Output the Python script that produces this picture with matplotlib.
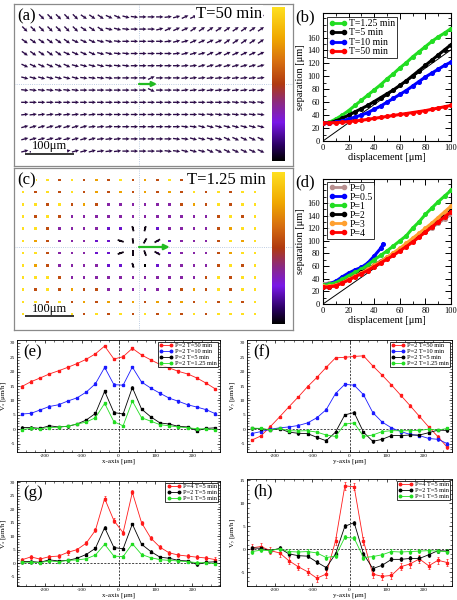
import numpy as np
import matplotlib
matplotlib.use('Agg')
import matplotlib.pyplot as plt
from matplotlib.colors import LinearSegmentedColormap
from matplotlib.lines import Line2D
from matplotlib.ticker import MultipleLocator

# ======================= DATA =======================
# (a) field at T=50 min: orientation code per arrow, rows top -> bottom
angle_code = {'A': -45, 'B': -35, 'C': -25, 'D': -15, 'E': -7, 'F': 0,
              'G': 7, 'H': 15, 'I': 25, 'J': 35, 'K': 45}
a_rows = [
    "AAAAAAABBBCCDEFFFGHIIJJJJJJJJ",
    "AAAAAAABBBDDEFFFHIIIJJJJJJJJJ",
    "BBBBBBCCCDDEFFFFFGHHIIIIJJJJJ",
    "BBBBBCCCCDDEEFFFFFGHHHIIIIIII",
    "CCCCCCDDDDEEEFFFFFFGGHHHHHHHH",
    "DDDDDDDEEEEFFFFIFFFGGGGGGGGGG",
    "EEEEEEEFFFFFFFFCFFFGGGGGGGGGG",
    "FFFFFFFFFFFFFFFFFFFFFFFFFEEEE",
    "GGGGGGGGGFFFFFFFFFFFFEEEEEEEE",
    "HHHHHHHHGGGFFFFFFFFEEDDDDDDDD",
    "HHHHHHHHHGGGFFFFFFEEDDDDCCCCC",
    "HHHHHHHHHGGGFFFFFEEDDDCCCCCCC",
]
a_title = "T=50 min"
a_arrow_len = 15.0          # um
a_particle_step = 37.0      # um (green arrow)

# (c) field at T=1.25 min: colour level (0-9) per grid point, rows top -> bottom
c_rows = [
    "99959575957595979999",
    "95959575757575959599",
    "99595753333335759599",
    "95953333333333335959",
    "99533332200233335799",
    "97533322000223335979",
    "99533322000223335799",
    "97533332200233335959",
    "99953333333333359599",
    "95957553333335759599",
    "99595757575757595959",
    "99959595959595959999",
]
c_title = "T=1.25 min"
c_seg_col = [8, 9, 9, 10, 10, 11, 8, 9, 10, 11, 9]
c_seg_row = [5, 4, 5, 4, 5, 5, 6, 6, 6, 6, 7]
c_seg_ang = [-18, 105, 95, 75, 60, 30, 20, 90, -70, -30, -72]
c_seg_len = [13, 11, 11, 11, 12, 13, 13, 12, 12, 13, 10]
c_particle_step = 63.0
scale_bar_um = 100

# (b) separation vs displacement
b_x = [0, 5, 10, 15, 20, 25, 30, 35, 40, 45, 50, 55, 60, 65, 70, 75, 80, 85, 90, 95, 100]
b_labels = ["T=1.25 min", "T=5 min", "T=10 min", "T=50 min"]
b_T125 = [28, 29, 34, 40, 47, 55, 63, 71, 79, 87, 96, 104, 113, 121, 130, 138, 146, 154, 161, 167, 174]
b_T5 = [28, 28, 31, 35, 40, 45, 50, 55, 61, 67, 73, 79, 86, 93, 101, 109, 117, 125, 133, 141, 149]
b_T10 = [28, 28, 29, 31, 34, 37, 40, 44, 49, 54, 60, 66, 72, 78, 85, 92, 99, 105, 111, 117, 122]
b_T50 = [28, 28, 28.5, 29, 30, 31, 32, 33.5, 35, 36.5, 38, 39.5, 41, 42.5, 44, 45.5, 47, 49, 51, 53, 55]
ref_slope = 1.41

# (d) separation vs displacement for several P
d_labels = ["P=0", "P=0.5", "P=1", "P=2", "P=3", "P=4"]
d_x_short = [0, 5, 10, 15, 20, 25, 30, 35, 40, 45, 47]
d_P0 = [32, 33, 35, 38, 42, 47, 52, 57, 62, 68, 74, 80, 86, 93, 100, 107, 114, 121, 128, 135, 142]
d_P05 = [30, 32, 36, 43, 49, 54, 58, 65, 76, 88, 95]
d_P1 = [30, 31, 34, 39, 45, 50, 55, 62, 70, 77, 84, 92, 100, 108, 120, 130, 142, 152, 162, 171, 180]
d_P2 = [27, 27, 30, 34, 39, 44, 50, 55, 61, 67, 73, 79, 86, 93, 101, 108, 116, 124, 132, 140, 148]
d_P3 = [28, 28, 30, 34, 39, 44, 49, 55, 61, 67, 74, 81, 88, 96, 104, 112, 120, 128, 137, 146, 155]
d_P4 = [27, 27, 29, 33, 38, 43, 48, 53, 59, 65, 71, 77, 84, 91, 98, 106, 114, 122, 130, 138, 146]

# (e)-(h) velocity profiles
pos = [-262.5, -237.5, -212.5, -187.5, -162.5, -137.5, -112.5, -87.5, -62.5, -37.5, -12.5,
       12.5, 37.5, 62.5, 87.5, 112.5, 137.5, 162.5, 187.5, 212.5, 237.5, 262.5]
# x-profiles (Vx) , P=2
vx_T50 = [14.8, 16.5, 17.8, 19.2, 20.3, 21.5, 22.8, 24.3, 26.2, 28.9, 24.4,
          25.2, 28.1, 25.8, 24.1, 22.5, 21.3, 20.1, 19.2, 17.8, 16.0, 14.0]
vx_T10 = [5.3, 5.5, 6.7, 7.9, 8.5, 9.8, 10.9, 12.9, 15.8, 21.5, 15.5,
          15.3, 21.6, 16.4, 14.3, 12.5, 10.8, 9.7, 8.5, 7.7, 6.8, 5.4]
vx_T5 = [0.6, 0.6, 0.3, 1.2, 0.8, 1.0, 1.8, 3.2, 5.5, 13.2, 5.8,
         5.3, 14.5, 7.0, 4.3, 2.2, 1.8, 1.0, 0.8, -0.5, 0.3, 0.5]
vx_T125 = [-0.1, 0.3, 0.2, 0.6, 0.7, 1.1, 1.8, 2.5, 4.0, 9.0, 2.6,
           1.2, 9.8, 4.0, 2.8, 1.6, 1.2, 0.8, 0.5, 0.2, 0.1, -0.2]
# y-profiles (Vy), P=2
vy_T50 = [-3.8, -2.3, 0.9, 4.3, 7.8, 11.2, 14.8, 18.0, 21.5, 24.8, 25.0,
          25.3, 25.5, 22.0, 18.8, 15.4, 11.8, 8.2, 4.5, 0.8, -2.6, -6.3]
vy_T10 = [-1.5, -0.8, 0.0, 0.5, 0.8, 1.3, 2.2, 4.0, 6.8, 12.4, 15.6,
          15.3, 12.0, 5.8, 2.5, 0.5, -0.8, -1.8, -2.2, -3.2, -3.5, -5.0]
vy_T5 = [0.3, 0.2, -0.3, 0.2, -1.0, -1.4, -1.5, -2.8, -4.0, -1.0, 5.0,
         5.8, -1.0, -4.2, -3.5, -2.2, -2.2, -2.0, -2.0, -1.2, -0.3, -0.4]
vy_T125 = [0.4, 0.3, -0.2, 0.3, -0.5, -0.6, -0.5, -1.0, -2.0, -2.5, 1.8,
           2.2, -2.5, -2.0, -0.8, -0.5, -0.5, -0.5, -0.4, 0.0, -0.3, 0.3]
# P comparison at T=5 min
vx_P4 = [1.2, 2.3, 1.5, 2.4, 2.6, 4.0, 5.0, 7.4, 12.2, 24.0, 15.8,
         11.3, 26.3, 15.0, 9.3, 5.9, 3.8, 3.0, 2.6, 2.2, 1.9, 1.3]
vx_P1 = [0.3, 0.3, 0.2, 0.8, 0.5, 1.0, 1.2, 1.6, 3.0, 7.0, 2.6,
         2.4, 7.2, 3.2, 2.0, 1.3, 1.0, 0.8, 0.5, 0.2, 0.1, -0.2]
vy_P4 = [0.3, 0.6, -0.3, -0.8, -2.5, -3.8, -4.9, -6.3, -5.4, 1.8, 13.8,
         13.6, 1.8, -5.4, -5.9, -5.7, -3.8, -3.2, -2.1, -3.6, -2.4, -2.9]
vy_P1 = [-0.5, -0.2, -0.3, 0.1, -0.5, -0.6, -0.5, -0.8, -1.8, -1.5, 2.6,
         2.4, -1.8, -1.6, -1.2, -0.5, -0.6, -0.5, -0.4, -0.3, -0.4, -0.5]
err_small = 0.45
err_big = 0.8
ef_labels = ["P=2 T=50 min", "P=2 T=10 min", "P=2 T=5 min", "P=2 T=1.25 min"]
gh_labels = ["P=4 T=5 min", "P=2 T=5 min", "P=1 T=5 min"]

# ======================= STYLE / LAYOUT =======================
plt.rcParams['font.family'] = ['Liberation Serif', 'DejaVu Serif']
plt.rcParams['mathtext.fontset'] = 'stix'
plt.rcParams['axes.unicode_minus'] = False

W, H = 457, 600
fig = plt.figure(figsize=(W / 100, H / 100), dpi=100)


def rect(l, t, r, b):
    return [l / W, 1 - b / H, (r - l) / W, (b - t) / H]


cmap = LinearSegmentedColormap.from_list('fld', [
    (0.0, '#000000'), (0.1, '#2a0060'), (0.25, '#7a18e8'), (0.38, '#8c2a80'),
    (0.5, '#b03a10'), (0.65, '#d87010'), (0.8, '#f0a800'), (1.0, '#ffe020')])

PXUM = 0.488   # px per um in field panels
GREEN = '#22dd22'


def field_frame(top, bottom, cx, cy):
    ax = fig.add_axes(rect(14, top, 293, bottom))
    ax.set_xlim((14 - cx) / PXUM, (293 - cx) / PXUM)
    ax.set_ylim((cy - bottom) / PXUM, (cy - top) / PXUM)
    ax.set_xticks([]); ax.set_yticks([])
    for s in ax.spines.values():
        s.set_color('#8a8a8a'); s.set_linewidth(0.9)
    ax.axhline(0, color='#a8bcd8', lw=0.6, ls=':', zorder=0)
    ax.axvline(0, color='#a8bcd8', lw=0.6, ls=':', zorder=0)
    return ax


def colorbar_strip(top, bottom):
    cax = fig.add_axes(rect(272, top, 285, bottom))
    cax.imshow(np.linspace(0, 1, 256)[:, None], cmap=cmap, aspect='auto', origin='lower')
    cax.set_axis_off()


def scale_bar(ax, y_line, y_text):
    x0 = (25 - 139) / PXUM
    ax.plot([x0, x0 + scale_bar_um], [y_line, y_line], color='k', lw=1.1, zorder=6, solid_capstyle='butt')
    ax.text(x0 + scale_bar_um / 2, y_text, "100\u03bcm", ha='center', va='center',
            fontsize=9, zorder=7, bbox=dict(facecolor='white', edgecolor='none', pad=0.3))


# ---------- (a) ----------
axa = field_frame(4, 166, 139, 84)
ax_x = np.linspace(-234, 250, 29)
ax_y = [137.5 - 25 * j for j in range(len(a_rows))]
X, Y, U, V = [], [], [], []
for j, row in enumerate(a_rows):
    row = row[:29].ljust(29, 'F')
    for i, ch in enumerate(row):
        ang = np.deg2rad(angle_code[ch])
        X.append(ax_x[i]); Y.append(ax_y[j])
        U.append(a_arrow_len * np.cos(ang)); V.append(a_arrow_len * np.sin(ang))
axa.quiver(X, Y, U, V, angles='xy', scale_units='xy', scale=1, pivot='middle',
           color='#2c0c48', width=0.0048, headwidth=2.8, headlength=2.8, headaxislength=2.4, zorder=3)
axa.annotate('', xy=(a_particle_step, 0), xytext=(0, 0),
             arrowprops=dict(arrowstyle='-|>', color='#22bb22', lw=1.6, mutation_scale=7,
                             shrinkA=0, shrinkB=0), zorder=5)
scale_bar(axa, (84 - 154) / PXUM, (84 - 146.5) / PXUM)
colorbar_strip(7, 161)
fig.text(17 / W, 1 - 16 / H, "(a)", fontsize=12, va='center', ha='left',
         bbox=dict(facecolor='white', edgecolor='none', pad=0.5))
fig.text(196 / W, 1 - 14 / H, a_title, fontsize=12, va='center', ha='left',
         bbox=dict(facecolor='white', edgecolor='none', pad=0.5))

# ---------- (c) ----------
axc = field_frame(168, 330, 139, 247)
cx_pts = [-237.5 + 25 * k for k in range(20)]
cy_pts = [137.5 - 25 * j for j in range(12)]
PX, PY, PC = [], [], []
for j, row in enumerate(c_rows):
    for i, ch in enumerate(row[:20]):
        PX.append(cx_pts[i]); PY.append(cy_pts[j]); PC.append(int(ch) / 9)
axc.scatter(PX, PY, c=PC, cmap=cmap, vmin=0, vmax=1, s=3.5, marker='s', linewidths=0, zorder=3)
SX = [cx_pts[c] for c in c_seg_col]
SY = [cy_pts[r] for r in c_seg_row]
SU = [l * np.cos(np.deg2rad(a)) for l, a in zip(c_seg_len, c_seg_ang)]
SV = [l * np.sin(np.deg2rad(a)) for l, a in zip(c_seg_len, c_seg_ang)]
axc.quiver(SX, SY, SU, SV, angles='xy', scale_units='xy', scale=1, pivot='middle', color='#140818',
           width=0.0065, headwidth=1, headlength=0, headaxislength=0, zorder=4)
axc.annotate('', xy=(c_particle_step, 0), xytext=(0, 0),
             arrowprops=dict(arrowstyle='-|>', color='#22bb22', lw=1.6, mutation_scale=8,
                             shrinkA=0, shrinkB=0), zorder=5)
scale_bar(axc, (247 - 316) / PXUM, (247 - 309) / PXUM)
colorbar_strip(172, 324)
fig.text(17 / W, 1 - 180 / H, "(c)", fontsize=12, va='center', ha='left',
         bbox=dict(facecolor='white', edgecolor='none', pad=0.5))
fig.text(187 / W, 1 - 180 / H, c_title, fontsize=12, va='center', ha='left',
         bbox=dict(facecolor='white', edgecolor='none', pad=0.5))


# ---------- (b), (d) ----------
def sep_axes(top, bottom, letter, letter_y):
    ax = fig.add_axes(rect(323, top, 451, bottom))
    ax.set_xlim(0, 100)
    ax.set_ylim(0, 198)
    ax.set_xticks([0, 20, 40, 60, 80, 100])
    ax.set_yticks([0, 20, 40, 60, 80, 100, 120, 140, 160])
    ax.xaxis.set_minor_locator(MultipleLocator(10))
    ax.yaxis.set_minor_locator(MultipleLocator(10))
    ax.tick_params(which='both', direction='in', top=True, right=True, labelsize=6, pad=2)
    ax.tick_params(which='major', length=4, width=0.7)
    ax.tick_params(which='minor', length=2, width=0.6)
    for s in ax.spines.values():
        s.set_linewidth(0.8)
    ax.set_xlabel("displacement [\u03bcm]", fontsize=7.5, labelpad=1)
    ax.set_ylabel("separation [\u03bcm]", fontsize=7.5, labelpad=2)
    ax.plot([0, 100], [0, ref_slope * 100], color='k', lw=0.7, zorder=2)
    fig.text(295 / W, 1 - letter_y / H, letter, fontsize=12, va='center', ha='left')
    return ax


def leg(ax, handles, labels, fs, **kw):
    lg = ax.legend(handles, labels, fontsize=fs, frameon=True, fancybox=False, numpoints=2, **kw)
    lg.get_frame().set_edgecolor('k')
    lg.get_frame().set_linewidth(0.7)
    return lg


axb = sep_axes(13, 141, "(b)", 17)
b_cols = [GREEN, 'k', '#0000ff', '#ff0000']
b_series = [b_T125, b_T5, b_T10, b_T50]
hb = []
for ys, col in zip(b_series, b_cols):
    axb.plot(b_x, ys, '-o', color=col, lw=2.2, ms=2.6, zorder=3)
    hb.append(Line2D([], [], color=col, lw=2, marker='o', ms=3))
leg(axb, hb, b_labels, 7, loc='upper left', bbox_to_anchor=(0.035, 0.965), borderaxespad=0,
    handlelength=1.9, handletextpad=0.2, labelspacing=0.05, borderpad=0.15)

axd = sep_axes(179, 304, "(d)", 182)
d_cols = ['#b89090', '#0000ff', GREEN, 'k', '#ffa030', '#ff0000']
hd = []
axd.plot(b_x, d_P0, '-o', color=d_cols[0], lw=2.2, ms=2.6, zorder=3)
axd.plot(d_x_short, d_P05, '-o', color=d_cols[1], lw=2.2, ms=2.6, zorder=3)
for ys, col in zip([d_P1, d_P2, d_P3, d_P4], d_cols[2:]):
    axd.plot(b_x, ys, '-o', color=col, lw=2.2, ms=2.6, zorder=3)
for col in d_cols:
    hd.append(Line2D([], [], color=col, lw=2, marker='o', ms=3))
leg(axd, hd, d_labels, 7, loc='upper left', bbox_to_anchor=(0.035, 0.975), borderaxespad=0,
    handlelength=1.9, handletextpad=0.2, labelspacing=0.0, borderpad=0.15)


# ---------- (e)-(h) ----------
def prof_axes(l, t, r, b, ylim, yticks, xlabel, ylabel, letter, series, labels):
    ax = fig.add_axes(rect(l, t, r, b))
    ax.set_xlim(-275, 275)
    ax.set_ylim(*ylim)
    ax.set_xticks([-200, -100, 0, 100, 200])
    ax.set_yticks(yticks)
    ax.xaxis.set_minor_locator(MultipleLocator(25))
    ax.yaxis.set_minor_locator(MultipleLocator(1))
    ax.tick_params(which='both', direction='in', top=True, right=True, labelsize=3.8, pad=1.5)
    ax.tick_params(which='major', length=2.5, width=0.5)
    ax.tick_params(which='minor', length=1.2, width=0.4)
    for s in ax.spines.values():
        s.set_linewidth(0.6)
    ax.axhline(0, color='k', lw=0.5, ls=(0, (3, 2)), zorder=1)
    ax.axvline(0, color='k', lw=0.5, ls=(0, (3, 2)), zorder=1)
    hs = []
    for ys, err, col in series:
        ax.errorbar(pos, ys, yerr=err, fmt='-s', color=col, ms=1.7, lw=0.6, elinewidth=0.5,
                    capsize=1.0, capthick=0.5, zorder=3)
        hs.append(Line2D([], [], color=col, lw=0.6, marker='o', ms=1.8))
    ax.set_xlabel(xlabel, fontsize=5, labelpad=0.5)
    ax.set_ylabel(ylabel, fontsize=5, labelpad=1)
    ax.text(0.03, 0.96, letter, transform=ax.transAxes, fontsize=12, va='top', ha='left')
    leg(ax, hs, labels, 4.6, loc='upper right', bbox_to_anchor=(0.99, 0.985), borderaxespad=0,
        handlelength=2.2, handletextpad=0.3, labelspacing=0.05, borderpad=0.2)
    return ax


RED, BLUE, BLK = '#ff1a1a', '#1a1aff', 'k'
prof_axes(17, 340, 220, 452, (-7.9, 31), [-5, 0, 5, 10, 15, 20, 25, 30],
          "x-axis [\u03bcm]", "V$_x$ [\u03bcm/h]", "(e)",
          [(vx_T50, err_small, RED), (vx_T10, err_small, BLUE), (vx_T5, err_small, BLK),
           (vx_T125, err_small, GREEN)], ef_labels)
prof_axes(247, 340, 452, 452, (-7.9, 31), [-5, 0, 5, 10, 15, 20, 25, 30],
          "y-axis [\u03bcm]", "V$_y$ [\u03bcm/h]", "(f)",
          [(vy_T50, err_small, RED), (vy_T10, err_small, BLUE), (vy_T5, err_small, BLK),
           (vy_T125, err_small, GREEN)], ef_labels)
prof_axes(17, 481, 220, 586, (-8.5, 30.5), [-5, 0, 5, 10, 15, 20, 25, 30],
          "x-axis [\u03bcm]", "V$_x$ [\u03bcm/h]", "(g)",
          [(vx_P4, err_big, RED), (vx_T5, err_small, BLK), (vx_P1, err_small, GREEN)], gh_labels)
prof_axes(247, 479, 452, 586, (-8, 15.3), [-5, 0, 5, 10, 15],
          "y-axis [\u03bcm]", "V$_y$ [\u03bcm/h]", "(h)",
          [(vy_P4, err_big, RED), (vy_T5, err_small, BLK), (vy_P1, err_small, GREEN)], gh_labels)

fig.savefig("out.png", dpi=100)
